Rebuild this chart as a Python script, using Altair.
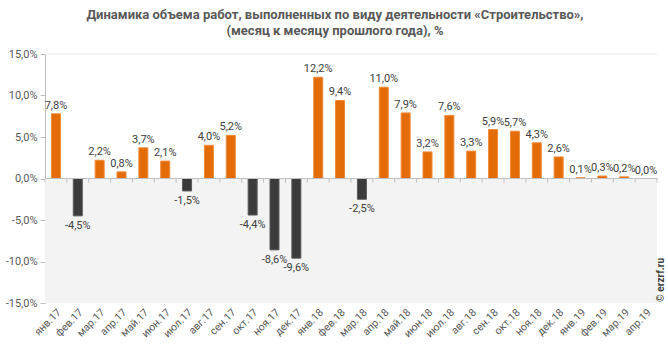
import altair as alt
import pandas as pd

categories = [
    "янв.17", "фев.17", "мар.17", "апр.17", "май.17", "июн.17", "июл.17", "авг.17",
    "сен.17", "окт.17", "ноя.17", "дек.17", "янв.18", "фев.18", "мар.18", "апр.18",
    "май.18", "июн.18", "июл.18", "авг.18", "сен.18", "окт.18", "ноя.18", "дек.18",
    "янв.19", "фев.19", "мар.19", "апр.19",
]
values = [
    7.8, -4.5, 2.2, 0.8, 3.7, 2.1, -1.5, 4.0,
    5.2, -4.4, -8.6, -9.6, 12.2, 9.4, -2.5, 11.0,
    7.9, 3.2, 7.6, 3.3, 5.9, 5.7, 4.3, 2.6,
    0.1, 0.3, 0.2, 0.0,
]
y_ticks = [-15, -10, -5, 0, 5, 10, 15]
title_lines = [
    "Динамика объема работ, выполненных по виду деятельности «Строительство»,",
    "(месяц к месяцу прошлого года), %",
]

df = pd.DataFrame({"cat": categories, "v": values})
W, H = 612, 249
GRAY = "#595959"
FONT = "Roboto"

yscale = alt.Scale(domain=[-15, 15], nice=False, zero=False)
xscale = alt.Scale(paddingInner=0.0, paddingOuter=0.0)
fmt = "replace(replace(format({v}, '.1f'), '.', ','), '\u2212', '-') + '%'"

yaxis = alt.Axis(values=y_ticks, labelExpr=fmt.format(v="datum.value"),
                 grid=False, domainColor="#bfbfbf", tickColor="#bfbfbf",
                 tickSize=5, labelPadding=3, labelFont=FONT, labelFontSize=11,
                 labelColor=GRAY, title=None)
xaxis = alt.Axis(labelAngle=-45, labelAlign="right", labelBaseline="top",
                 labelPadding=4, ticks=False, domain=False,
                 labelFont=FONT, labelFontSize=10.5, labelColor=GRAY, title=None)


def Y(field):
    return alt.Y(field, scale=yscale, axis=yaxis, title=None)


def X(**kw):
    return alt.X("cat:N", sort=categories, scale=xscale, axis=xaxis, title=None, **kw)


base = alt.Chart(df)

bg = alt.Chart(pd.DataFrame({"lo": [-15], "hi": [0]})).mark_rect(color="#f3f3f3").encode(
    x=alt.value(0), x2=alt.value(W),
    y=Y("lo:Q"), y2="hi:Q",
)

top_rule = alt.Chart(pd.DataFrame({"t": [15]})).mark_rule(color="#e6e6e6", strokeWidth=1).encode(
    x=alt.value(0), x2=alt.value(W),
    y=Y("t:Q"),
)

bars = base.mark_bar(size=9).encode(
    x=X(),
    y=Y("v:Q"),
    y2=alt.datum(0),
    color=alt.condition("datum.v >= 0", alt.value("#E36C09"), alt.value("#3b3b3b")),
    stroke=alt.condition("datum.v >= 0", alt.value("#f08a3a"), alt.value("#5a5a5a")),
)

zero_rule = alt.Chart(pd.DataFrame({"z": [0]})).mark_rule(color="#bfbfbf", strokeWidth=1).encode(
    x=alt.value(0), x2=alt.value(W),
    y=Y("z:Q"),
)

ticks_start = base.mark_rule(color="#bfbfbf", strokeWidth=1).encode(
    x=X(bandPosition=0),
    y=alt.datum(0, scale=yscale),
    y2=alt.datum(-0.5),
)
ticks_end = base.transform_filter(
    alt.datum.cat == categories[-1]
).mark_rule(color="#bfbfbf", strokeWidth=1).encode(
    x=X(bandPosition=1),
    y=alt.datum(0, scale=yscale),
    y2=alt.datum(-0.5),
)

pos_labels = base.transform_filter("datum.v >= 0").transform_calculate(
    lab=fmt.format(v="datum.v")
).mark_text(baseline="bottom", dy=-3, font=FONT, fontSize=11, color="#404040").encode(
    x=X(),
    y=Y("v:Q"),
    text="lab:N",
)

neg_labels = base.transform_filter("datum.v < 0").transform_calculate(
    lab=fmt.format(v="datum.v")
).mark_text(baseline="top", dy=4, font=FONT, fontSize=11, color="#404040").encode(
    x=X(),
    y=Y("v:Q"),
    text="lab:N",
)

watermark = alt.Chart(pd.DataFrame({"w": ["© erzrf.ru"]})).mark_text(
    angle=270, align="center", baseline="middle", font=FONT, fontSize=10,
    fontWeight="bold", color="#404040"
).encode(x=alt.value(W + 4), y=alt.value(226), text="w:N")

chart = alt.layer(
    bg, top_rule, bars, zero_rule, ticks_start, ticks_end, pos_labels, neg_labels, watermark
).properties(
    width=W, height=H,
    autosize=alt.AutoSizeParams(type="none"),
    padding={"left": 45, "top": 54, "right": 11, "bottom": 47},
    title=alt.TitleParams(
        text=title_lines, anchor="middle", dx=-16, offset=10,
        font=FONT, fontSize=13, fontWeight="bold",
        color=GRAY, lineHeight=16,
    ),
).configure_view(stroke=None)

chart.save("out.html", embed_options={"renderer": "svg", "actions": False})
